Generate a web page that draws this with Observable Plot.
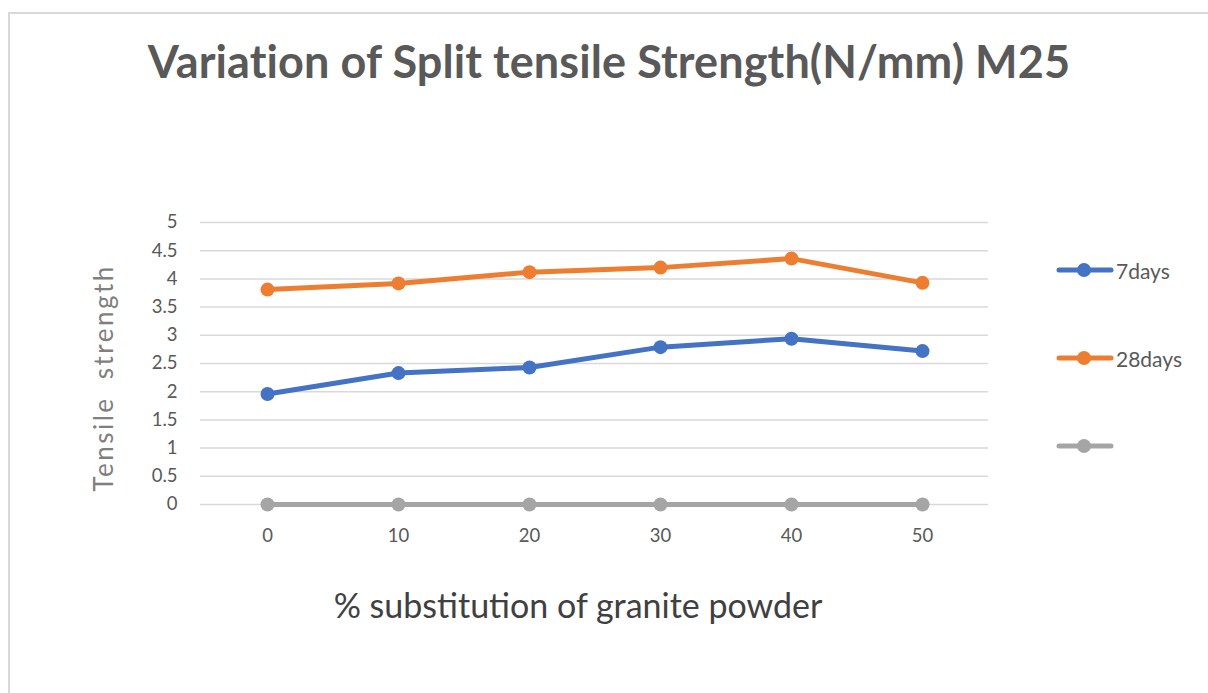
<!DOCTYPE html>
<html>
<head>
<meta charset="utf-8">
<script src="https://cdn.jsdelivr.net/npm/d3@7"></script>
<script src="https://cdn.jsdelivr.net/npm/@observablehq/plot@0.6"></script>
<style>
  html, body { margin: 0; padding: 0; background: #fff; overflow: hidden; }
  #wrap { position: relative; width: 1208px; height: 693px; overflow: hidden; font-family: Lato, "Open Sans", sans-serif; }
  #frame { position: absolute; left: 8px; top: 12px; width: 1400px; height: 900px; border: 2px solid #d9d9d9; box-sizing: border-box; }
  #title { position: absolute; left: 0; width: 1218px; top: 34px; text-align: center; font-weight: bold; font-size: 45px; color: #595959; white-space: nowrap; letter-spacing: 0.1px; }
  #xlabel { position: absolute; left: 184px; width: 788px; top: 584px; text-align: center; font-size: 34px; color: #404040; white-space: nowrap; }
  #ylabel { position: absolute; left: 103px; top: 378px; transform: translate(-50%, -50%) rotate(-90deg); font-size: 26px; color: #7f7f7f; letter-spacing: 2.5px; word-spacing: 8px; white-space: nowrap; }
  #legend { position: absolute; left: 1056px; top: 0; }
  .item { position: absolute; left: 0; display: flex; align-items: center; font-size: 21px; color: #595959; white-space: nowrap; }
  svg.plot { position: absolute; left: 0; top: 0; }
</style>
</head>
<body>
<div id="wrap">
  <div id="frame"></div>
  <div id="title"></div>
  <div id="xlabel"></div>
  <div id="ylabel"></div>
  <div id="legend"></div>
</div>
<script>
const titleText = "Variation of Split tensile Strength(N/mm) M25";
const xLabelText = "% substitution of granite powder";
const yLabelText = "Tensile strength";
const categories = ["0", "10", "20", "30", "40", "50"];
const days7 = [1.96, 2.33, 2.43, 2.79, 2.94, 2.72];
const days28 = [3.81, 3.92, 4.12, 4.20, 4.36, 3.93];
const series3 = [0, 0, 0, 0, 0, 0];
const seriesNames = ["7days", "28days", ""];
const seriesColors = ["#4472C4", "#ED7D31", "#A5A5A5"];
const yTicks = [0, 0.5, 1, 1.5, 2, 2.5, 3, 3.5, 4, 4.5, 5];
const yTickLabels = ["0", "0.5", "1", "1.5", "2", "2.5", "3", "3.5", "4", "4.5", "5"];

const allSeries = [days7, days28, series3];
const keys = seriesNames.map((n, i) => "s" + i);
const data = [];
allSeries.forEach((vals, i) => {
  vals.forEach((v, j) => data.push({ series: keys[i], x: categories[j], y: v }));
});

document.getElementById("title").textContent = titleText;
document.getElementById("xlabel").textContent = xLabelText;
document.getElementById("ylabel").textContent = yLabelText;

const chart = Plot.plot({
  width: 1208,
  height: 693,
  marginLeft: 200,
  marginRight: 220,
  marginTop: 222,
  marginBottom: 189,
  style: { fontFamily: "Lato, 'Open Sans', sans-serif", fontSize: "18.5px", color: "#595959", background: "transparent" },
  x: { type: "point", domain: categories, padding: 0.5, label: null },
  y: { domain: [0, 5], ticks: yTicks, label: null },
  color: { domain: keys, range: seriesColors },
  marks: [
    Plot.gridY(yTicks, { stroke: "#d9d9d9", strokeOpacity: 1, strokeWidth: 1.5 }),
    Plot.axisY(yTicks, { tickSize: 0, tickPadding: 23, tickFormat: (d) => yTickLabels[yTicks.indexOf(d)], label: null }),
    Plot.axisX(categories, { tickSize: 0, tickPadding: 24, label: null }),
    Plot.line(data, { x: "x", y: "y", z: "series", stroke: "series", strokeWidth: 5, strokeLinecap: "round", strokeLinejoin: "round" }),
    Plot.dot(data, { x: "x", y: "y", fill: "series", r: 7, stroke: null })
  ]
});
chart.classList.add("plot");
document.getElementById("wrap").insertBefore(chart, document.getElementById("title"));

// legend
const legendTops = [270, 358, 446];
const legend = document.getElementById("legend");
seriesNames.forEach((name, i) => {
  const item = document.createElement("div");
  item.className = "item";
  item.style.top = (legendTops[i] - 12) + "px";
  item.style.height = "24px";
  item.innerHTML = `<svg width="58" height="24" style="margin-right:2px"><line x1="3" y1="12" x2="55" y2="12" stroke="${seriesColors[i]}" stroke-width="5" stroke-linecap="round"/><circle cx="28" cy="12" r="7" fill="${seriesColors[i]}"/></svg><span>${name}</span>`;
  legend.appendChild(item);
});
</script>
</body>
</html>
